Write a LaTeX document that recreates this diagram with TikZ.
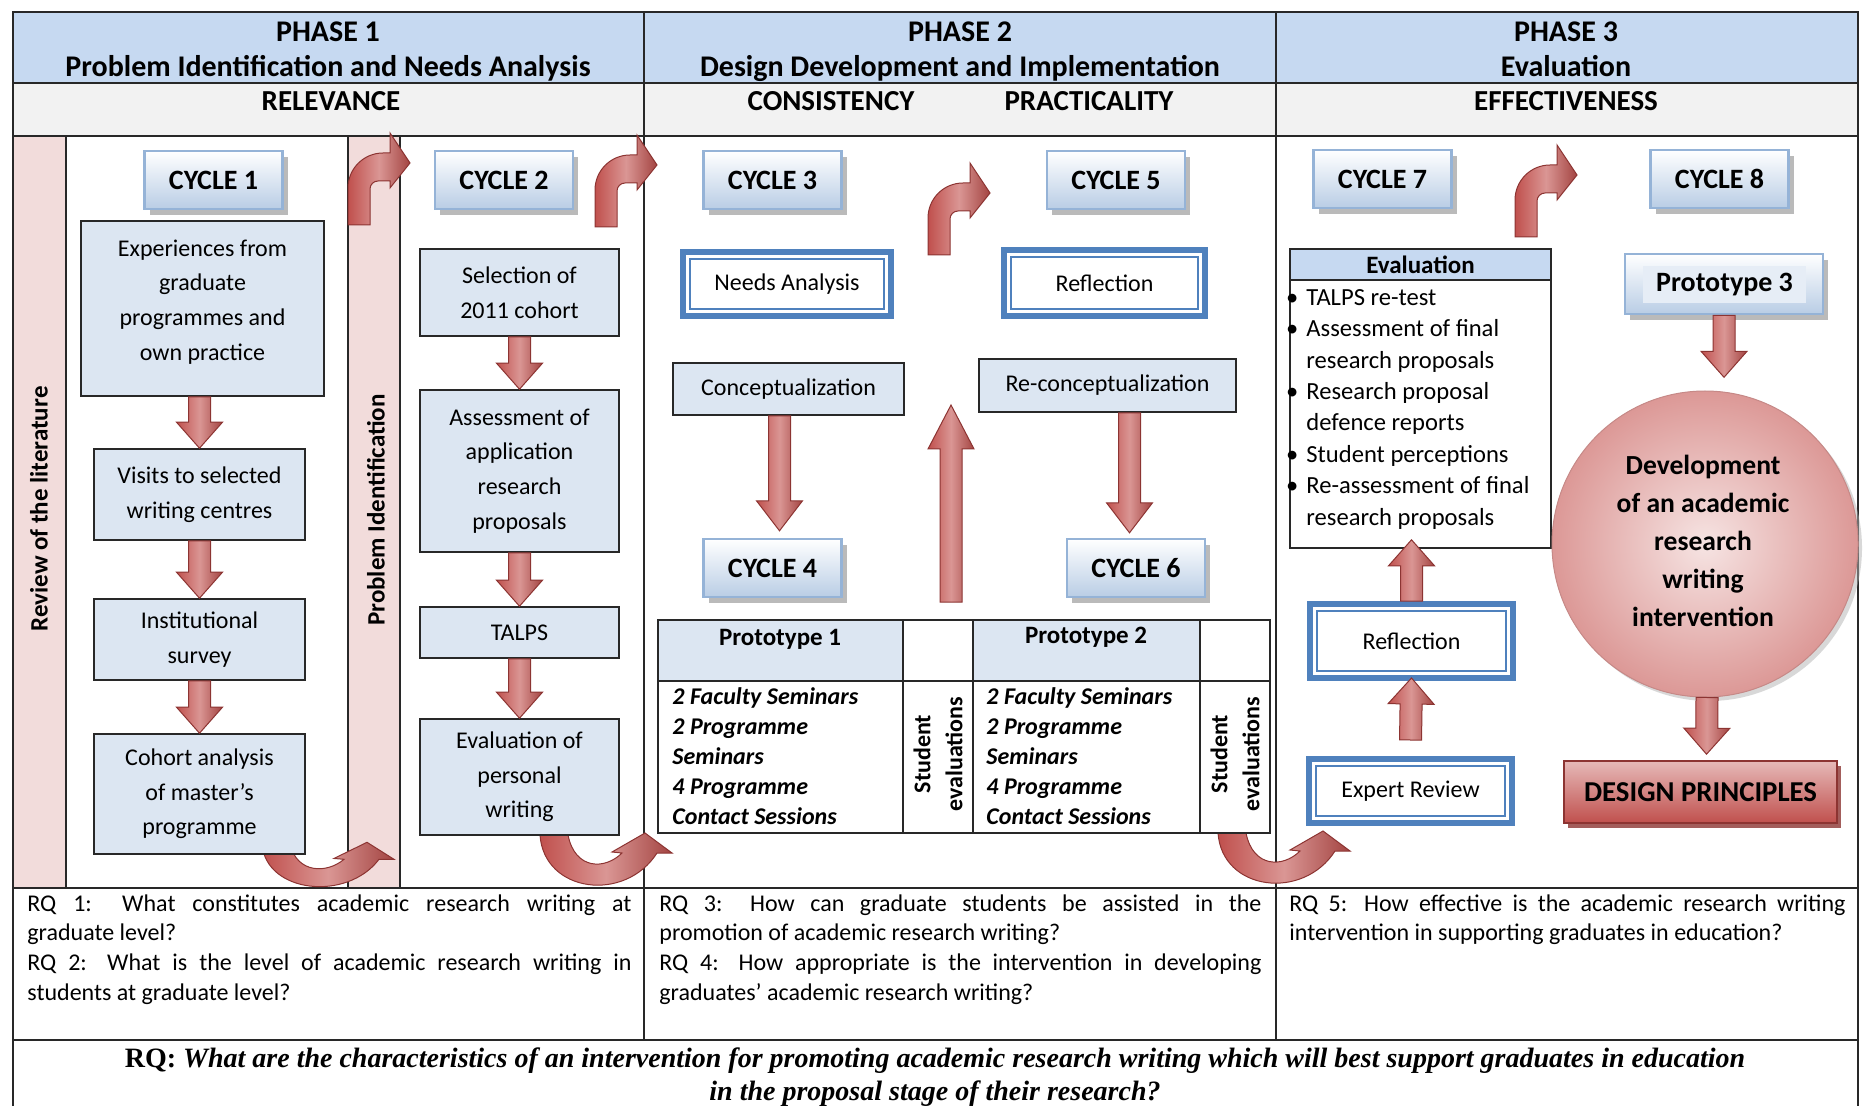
\documentclass[tikz,border=0pt]{standalone}
\usepackage{fontspec}
\setmainfont{Carlito}
\newfontfamily\rqfont{Liberation Serif}
\usetikzlibrary{calc,shadows}
\definecolor{hdrblue}{RGB}{198,217,241}
\definecolor{relgray}{RGB}{242,242,242}
\definecolor{pinkcol}{RGB}{242,220,219}
\definecolor{boxbl}{RGB}{220,230,242}
\definecolor{cycbot}{RGB}{185,205,229}
\definecolor{cycedge}{RGB}{149,179,215}
\definecolor{dblblue}{RGB}{79,129,189}
\definecolor{arrred}{RGB}{192,80,77}
\definecolor{arrlt}{RGB}{218,150,148}
\definecolor{arrdk}{RGB}{140,52,50}
\definecolor{circin}{RGB}{246,228,227}
\definecolor{circout}{RGB}{220,152,150}
\definecolor{dptop}{RGB}{230,185,184}
\definecolor{gridcol}{RGB}{40,40,40}

% straight block arrow from #2 to #3, head length #1
\newcommand{\blkarrow}[3][13pt]{%
  \coordinate (ba) at (#2);
  \coordinate (bt) at (#3);
  \coordinate (hb) at ($(bt)!#1!(ba)$);
  \shade[arrshade] ($(ba)!5.5pt!90:(bt)$) -- ($(hb)!5.5pt!-90:(ba)$)
    -- ($(hb)!11.5pt!-90:(ba)$) -- (bt) -- ($(hb)!11.5pt!90:(ba)$)
    -- ($(hb)!5.5pt!90:(ba)$) -- ($(ba)!5.5pt!-90:(bt)$) -- cycle;
}

\tikzset{
  bentarrow/.pic={
    \shade[arrshade, yscale=-1] (0,0) -- (0,37) arc[start angle=180, end angle=90, radius=35]
      -- (42,72) -- (42,92) -- (62,62) -- (42,37) -- (42,44) -- (30,44)
      arc[start angle=90, end angle=180, radius=8] -- (22,0) -- cycle;
  },
  uturn/.pic={
    \shade[arrshade] (0,0) .. controls (4,58) and (85,68) .. (117,18) -- (132,18) -- (105,-2)
      -- (72,17) -- (82,18) .. controls (65,35) and (35,35) .. (28,0) -- cycle;
  },
}

\begin{document}
\begin{tikzpicture}[
    x=0.5pt, y=-0.5pt,
    grid/.style={draw=gridcol, line width=0.9pt},
    hdr/.style={font=\fontsize{15}{17.5}\selectfont\bfseries, align=center, inner sep=0pt},
    subhdr/.style={font=\fontsize{14.5}{17}\selectfont\bfseries, inner sep=0pt},
    vtext/.style={rotate=90, font=\fontsize{12.5}{15}\selectfont\bfseries, inner sep=0pt},
    pbox/.style={draw=gridcol, line width=0.8pt, fill=boxbl, align=center,
                 font=\fontsize{12}{17.3}\selectfont, inner sep=2pt},
    cyc/.style={draw=cycedge, line width=1.3pt, top color=white, bottom color=cycbot,
                minimum width=69pt, minimum height=29pt, font=\fontsize{14}{16}\selectfont\bfseries,
                drop shadow={shadow xshift=2.5pt, shadow yshift=-3pt, fill=black!45, opacity=0.6}},
    dbl/.style={draw=dblblue, line width=3pt, fill=white, font=\fontsize{12}{14}\selectfont,
                path picture={\draw[dblblue, line width=0.9pt]
                  ([shift={(3.6pt,3.6pt)}]path picture bounding box.south west) rectangle
                  ([shift={(-3.6pt,-3.6pt)}]path picture bounding box.north east);}},
    arrshade/.style={left color=arrred, right color=arrred!85!black, middle color=arrlt,
                     draw=arrdk, line width=0.5pt},
    cellhead/.style={font=\fontsize{12.5}{15}\selectfont\bfseries, inner sep=0pt},
    cellbody/.style={font=\fontsize{12}{15}\selectfont\bfseries\itshape, align=left, inner sep=0pt},
    rotcell/.style={rotate=90, font=\fontsize{12}{16}\selectfont\bfseries, align=center, inner sep=0pt},
    evlist/.style={font=\fontsize{12.3}{15.7}\selectfont, align=left, inner sep=0pt},
    rqtext/.style={font=\fontsize{12}{14.9}\selectfont, align=justify, inner sep=0pt}
]
\useasboundingbox (0,0) rectangle (1866,1106);

% Header rows and side columns
\fill[hdrblue] (13,12) rectangle (1858,83);
\fill[relgray] (13,83) rectangle (1858,136);
\fill[pinkcol] (13,136) rectangle (66,888);
\fill[pinkcol] (348,136) rectangle (400,888);

% Grid
\draw[grid] (13,1106) -- (13,12) -- (1858,12) -- (1858,1106);
\draw[grid] (13,83) -- (1858,83) (13,136) -- (1858,136) (13,888) -- (1858,888) (13,1040) -- (1858,1040);
\draw[grid] (644,12) -- (644,1040) (1276,12) -- (1276,1040);
\draw[grid] (66,136) -- (66,888) (348,136) -- (348,888) (400,136) -- (400,888);

% Phase headings
\node[hdr, anchor=north] (ph1) at (328,21) {PHASE 1\\Problem Identification and Needs Analysis};
\node[hdr, anchor=north] (ph2) at (960,21) {PHASE 2\\Design Development and Implementation};
\node[hdr, anchor=north] (ph3) at (1566,21) {PHASE 3\\Evaluation};
\node[subhdr] (rel) at (331,101) {RELEVANCE};
\node[subhdr] (cons) at (831,101) {CONSISTENCY};
\node[subhdr] (prac) at (1089,101) {PRACTICALITY};
\node[subhdr] (eff) at (1566,101) {EFFECTIVENESS};

\node[vtext] (lit) at (39,509) {Review of the literature};
\node[vtext] (pid) at (376,510) {Problem Identification};

% Turn arrows
\pic at (348,225) {bentarrow};
\pic at (595,227) {bentarrow};
\pic at (928,255) {bentarrow};
\pic at (1515,237) {bentarrow};
\pic[yscale=0.85] at (262,844) {uturn};
\pic at (540,835) {uturn};
\pic at (1218,833) {uturn};

% Phase 1
\node[cyc] (cycle1) at (213.5,180) {CYCLE 1};
\node[pbox, minimum width=121.5pt, minimum height=87.5pt] (exper) at (202.5,308.5)
    {Experiences from\\graduate\\programmes and\\own practice\\[-8.8pt]\mbox{}};
\node[pbox, minimum width=105.5pt, minimum height=45.5pt] (visits) at (199.5,494.5)
    {Visits to selected\\writing centres};
\node[pbox, minimum width=105.5pt, minimum height=40.5pt] (survey) at (199.5,639.5)
    {Institutional\\survey};
\node[pbox, minimum width=105.5pt, minimum height=60pt] (cohort) at (199.5,794)
    {Cohort analysis\\of master’s\\programme};

\node[cyc] (cycle2) at (504,180) {CYCLE 2};
\node[pbox, minimum width=99.5pt, minimum height=43.5pt] (select) at (519.5,292.5)
    {Selection of\\2011 cohort};
\node[pbox, minimum width=99.5pt, minimum height=81pt] (assess) at (519.5,471)
    {Assessment of\\application\\research\\proposals};
\node[pbox, minimum width=99.5pt, minimum height=25.5pt] (talps) at (519.5,632.5) {TALPS};
\node[pbox, minimum width=99.5pt, minimum height=58pt] (perswr) at (519.5,777)
    {Evaluation of\\personal\\writing};

\blkarrow{visits.north |- exper.south}{visits.north}
\blkarrow{survey.north |- visits.south}{survey.north}
\blkarrow{cohort.north |- survey.south}{cohort.north}
\blkarrow{select.south}{assess.north}
\blkarrow{assess.south}{talps.north}
\blkarrow{talps.south}{perswr.north}

% Phase 2
\node[cyc] (cycle3) at (772.5,180) {CYCLE 3};
\node[cyc] (cycle5) at (1116,180) {CYCLE 5};
\node[dbl, minimum width=104pt, minimum height=32pt] (needs) at (787,284) {Needs Analysis};
\node[dbl, minimum width=100.5pt, minimum height=33pt] (refl5) at (1104.5,283) {Reflection};
\node[pbox, font=\fontsize{12}{14}\selectfont, minimum width=115.5pt, minimum height=26pt]
    (concept) at (788.5,389) {Conceptualization};
\node[pbox, font=\fontsize{12}{14}\selectfont, minimum width=128.5pt, minimum height=26.5pt]
    (reconcept) at (1107.5,385.5) {Re-conceptualization};
\node[cyc] (cycle4) at (772.5,568) {CYCLE 4};
\node[cyc] (cycle6) at (1136,568) {CYCLE 6};

\coordinate (upbot) at (951,602);
\coordinate (uptop) at (951,405);
\blkarrow[15pt]{$(concept.south)+(-9,0)$}{$(concept.south)+(-9,115)$}
\blkarrow[22pt]{upbot}{uptop}
\blkarrow[15pt]{$(reconcept.south)+(22,0)$}{$(reconcept.south)+(22,120)$}

% Prototype table
\fill[boxbl] (658,620) rectangle (903,681);
\fill[boxbl] (973,620) rectangle (1200,681);
\draw[grid, line width=0.8pt] (658,620) rectangle (1270,833);
\draw[grid, line width=0.8pt] (658,681) -- (1270,681) (903,620) -- (903,833)
    (973,620) -- (973,833) (1200,620) -- (1200,833);
\node[cellhead] (proto1) at (780,639) {Prototype 1};
\node[cellhead] (proto2) at (1086,637) {Prototype 2};
\node[cellbody, anchor=north west] (proto1list) at (672,687)
    {2 Faculty Seminars\\2 Programme\\Seminars\\4 Programme\\Contact Sessions};
\node[cellbody, anchor=north west] (proto2list) at (986,687)
    {2 Faculty Seminars\\2 Programme\\Seminars\\4 Programme\\Contact Sessions};
\node[rotcell] (stud1) at (938,754) {Student\\evaluations};
\node[rotcell] (stud2) at (1235,754) {Student\\evaluations};

% Phase 3
\node[cyc] (cycle7) at (1382.5,179) {CYCLE 7};
\node[cyc] (cycle8) at (1719.5,179) {CYCLE 8};
\node[draw=gridcol, line width=0.8pt, fill=white, minimum width=130.5pt, minimum height=149.5pt]
    (evalbox) at (1420.5,398.5) {};
\node[draw=gridcol, line width=0.8pt, fill=hdrblue, minimum width=130.5pt, minimum height=15.5pt,
    inner sep=0pt, font=\fontsize{12.5}{14}\selectfont\bfseries] (evalhead) at (1420.5,264.5) {Evaluation};
\node[evlist, anchor=north west] (evalitems) at (1306,289)
    {\llap{\textbullet\hspace{4pt}}TALPS re-test\\
     \llap{\textbullet\hspace{4pt}}Assessment of final\\research proposals\\
     \llap{\textbullet\hspace{4pt}}Research proposal\\defence reports\\
     \llap{\textbullet\hspace{4pt}}Student perceptions\\
     \llap{\textbullet\hspace{4pt}}Re-assessment of final\\research proposals};
\node[dbl, minimum width=101.5pt, minimum height=37pt] (refl7) at (1411.5,641) {Reflection};
\node[dbl, minimum width=101.5pt, minimum height=32pt] (expert) at (1410.5,791) {Expert Review};

\node[cyc, minimum width=99pt, minimum height=30pt] (proto3) at (1724,284) {};
\node[fill=boxbl!70!white, minimum width=81.5pt, minimum height=18.5pt, inner sep=0pt,
    font=\fontsize{14}{16}\selectfont\bfseries] (proto3txt) at (1724.5,284.5) {Prototype 3};
\node[circle, draw=circout!90!black, line width=0.5pt, inner color=circin, outer color=circout,
    minimum size=153pt, drop shadow={shadow xshift=2pt, shadow yshift=-2pt, fill=black!30, opacity=0.5}]
    (devcirc) at (1705,544) {};
\node[font=\fontsize{13.8}{19}\selectfont\bfseries, align=center] (devtxt) at (1703,541)
    {Development\\of an academic\\research\\writing\\intervention};
\node[draw=arrdk, line width=0.8pt, top color=dptop, bottom color=arrred, minimum width=136.5pt,
    minimum height=31pt, font=\fontsize{14.4}{16}\selectfont\bfseries,
    drop shadow={shadow xshift=2pt, shadow yshift=-2.5pt, fill=arrdk, opacity=0.8}]
    (design) at (1700.5,792) {DESIGN PRINCIPLES};

\blkarrow{refl7.north}{$(refl7.north |- evalbox.south)+(0,-9)$}
\blkarrow{$(expert.north)+(0,-16)$}{$(refl7.south)+(0,-3)$}
\blkarrow{proto3.south}{$(proto3.south)+(0,62)$}
\blkarrow{$(devcirc.south)+(2,0)$}{$(design.north)+(6,-6)$}

% Research questions
\node[rqtext, text width=302pt, anchor=north west] (rq12) at (27,894)
    {RQ 1: What constitutes academic research writing at\linebreak graduate level?\par
     RQ 2: What is the level of academic research writing in\linebreak students at graduate level?};
\node[rqtext, text width=301pt, anchor=north west] (rq34) at (659,894)
    {RQ 3: How can graduate students be assisted in the\linebreak promotion of academic research writing?\par
     RQ 4: How appropriate is the intervention in developing\linebreak graduates’ academic research writing?};
\node[rqtext, text width=278pt, anchor=north west] (rq5) at (1289,894)
    {RQ 5: How effective is the academic research writing\linebreak intervention in supporting graduates in education?};
\node[font=\rqfont\fontsize{14}{16.2}\selectfont\bfseries, align=center, inner sep=0pt] (rqmain) at (935,1077)
    {RQ: \itshape What are the characteristics of an intervention for promoting academic research writing which will best support graduates in education\\
     \itshape in the proposal stage of their research?};

\end{tikzpicture}
\end{document}
